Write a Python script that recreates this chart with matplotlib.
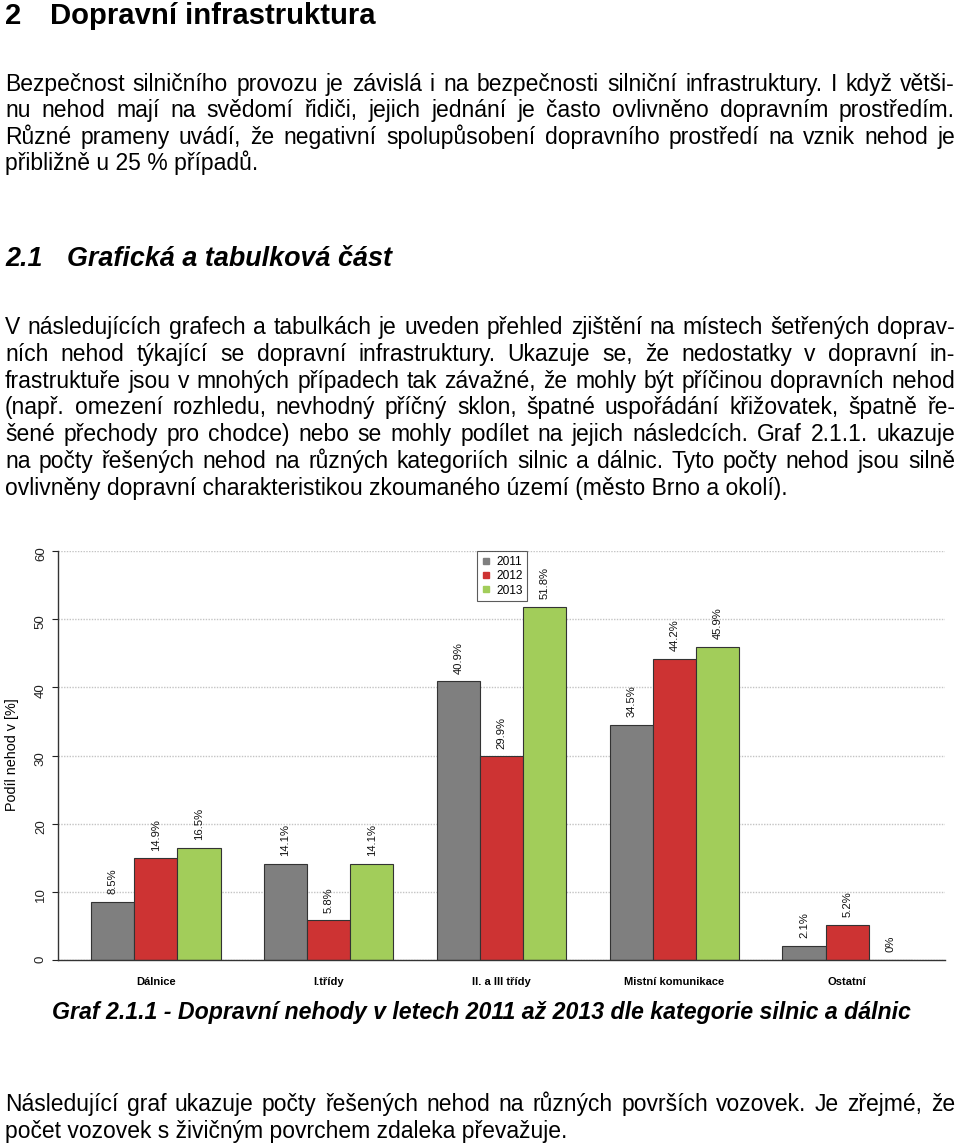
import matplotlib
matplotlib.use('Agg')
import matplotlib.pyplot as plt
from matplotlib.font_manager import FontProperties
from matplotlib.lines import Line2D

# chart data
categories = ['Dálnice', 'I.třídy', 'II. a III třídy', 'Mistní komunikace', 'Ostatní']
years = ['2011', '2012', '2013']
share_2011 = [8.5, 14.1, 40.9, 34.5, 2.1]
share_2012 = [14.9, 5.8, 29.9, 44.2, 5.2]
share_2013 = [16.5, 14.1, 51.8, 45.9, 0.0]
colors = ['#7F7F7F', '#CD3333', '#A2CD5A']

# page text
heading1 = ('2', 'Dopravní infrastruktura')
para1 = [
    'Bezpečnost silničního provozu je závislá i na bezpečnosti silniční infrastruktury. I když větši-',
    'nu nehod mají na svědomí řidiči, jejich jednání je často ovlivněno dopravním prostředím.',
    'Různé prameny uvádí, že negativní spolupůsobení dopravního prostředí na vznik nehod je',
    'přibližně u 25 % případů.',
]
heading2 = ('2.1', 'Grafická a tabulková část')
para2 = [
    'V následujících grafech a tabulkách je uveden přehled zjištění na místech šetřených doprav-',
    'ních nehod týkající se dopravní infrastruktury. Ukazuje se, že nedostatky v dopravní in-',
    'frastruktuře jsou v mnohých případech tak závažné, že mohly být příčinou dopravních nehod',
    '(např. omezení rozhledu, nevhodný příčný sklon, špatné uspořádání křižovatek, špatně ře-',
    'šené přechody pro chodce) nebo se mohly podílet na jejich následcích. Graf 2.1.1. ukazuje',
    'na počty řešených nehod na různých kategoriích silnic a dálnic. Tyto počty nehod jsou silně',
    'ovlivněny dopravní charakteristikou zkoumaného území (město Brno a okolí).',
]
caption = 'Graf 2.1.1 - Dopravní nehody v letech 2011 až 2013 dle kategorie silnic a dálnic'
para3 = [
    'Následující graf ukazuje počty řešených nehod na různých površích vozovek. Je zřejmé, že',
    'počet vozovek s živičným povrchem zdaleka převažuje.',
]

W, H = 960, 1146
fig = plt.figure(figsize=(W / 100, H / 100), dpi=100)
renderer = fig.canvas.get_renderer()

body = FontProperties(family='Liberation Sans', size=16.5)
h1 = FontProperties(family='Liberation Sans', weight='bold', size=21.1)
h2 = FontProperties(family='Liberation Sans', weight='bold', style='italic', size=19.4)
cap = FontProperties(family='Liberation Sans', weight='bold', style='italic', size=16.65)


def put(x, y, s, prop):
    return fig.text(x / W, 1 - y / H, s, fontproperties=prop, ha='left', va='baseline')


def line(s, y, prop, justify, x0=5, x1=955):
    if not justify:
        put(x0, y, s, prop)
        return
    words = s.split(' ')
    texts = [put(x0, y, w, prop) for w in words]
    widths = [t.get_window_extent(renderer).width for t in texts]
    gap = (x1 - x0 - sum(widths)) / (len(words) - 1)
    x = x0
    for t, wd in zip(texts, widths):
        t.set_x(x / W)
        x += wd + gap


def paragraph(lines, y0, step, prop):
    for i, s in enumerate(lines):
        line(s, y0 + i * step, prop, justify=i < len(lines) - 1)


put(5, 24, heading1[0], h1)
put(50, 24, heading1[1], h1)
paragraph(para1, 91, 26.3, body)
put(5, 266, heading2[0], h2)
put(67, 266, heading2[1], h2)
paragraph(para2, 334, 26.8, body)
put(52, 1019, caption, cap)
paragraph(para3, 1111, 27, body)

# chart
ax = fig.add_axes([58 / W, 1 - 960 / H, 887 / W, 409 / H])
series = [share_2011, share_2012, share_2013]
for s, (vals, col) in enumerate(zip(series, colors)):
    xs = [1 + 4 * g + s for g in range(len(categories))]
    ax.bar(xs, vals, width=1, align='edge', color=col, edgecolor='#333333',
           linewidth=0.8, zorder=2)
    for x, v in zip(xs, vals):
        ax.annotate(f'{v:g}%', (x + 0.5, v), xytext=(0, 5.5), textcoords='offset points',
                    rotation=90, ha='center', va='bottom', fontsize=8.1,
                    family='Liberation Sans', color='#111111')

ax.set_xlim(0.24, 20.76)
ax.set_ylim(0, 60)
ax.set_yticks(range(0, 61, 10))
ax.tick_params(axis='y', length=4, width=0.8, pad=4, labelsize=9.5, labelrotation=90,
               colors='#222222')
for lab in ax.get_yticklabels():
    lab.set_family('Liberation Sans')
ax.set_xticks([2.5 + 4 * g for g in range(len(categories))])
ax.set_xticklabels(categories, fontweight='bold', fontsize=8, family='Liberation Sans')
ax.tick_params(axis='x', length=0, pad=12)
ax.yaxis.grid(True, linestyle=(0, (1, 1)), color='#c4c4c4', linewidth=1)
ax.set_axisbelow(True)
for side in ('top', 'right'):
    ax.spines[side].set_visible(False)
for side in ('left', 'bottom'):
    ax.spines[side].set_color('#333333')
    ax.spines[side].set_linewidth(1)

fig.text(12 / W, 1 - 755 / H, 'Podíl nehod v [%]', rotation=90, ha='center', va='center',
         fontsize=10.4, family='Liberation Sans')

handles = [Line2D([], [], marker='s', linestyle='none', markersize=3.8,
                  markerfacecolor=c, markeredgecolor=c) for c in colors]
leg = ax.legend(handles, years, loc='upper left', bbox_to_anchor=((477 - 58) / 887, 1.0),
                borderaxespad=0, frameon=True, fancybox=False, handlelength=0.7,
                handletextpad=0.5, labelspacing=0.2, borderpad=0.4,
                prop=FontProperties(family='Liberation Sans', size=8.6))
leg.get_frame().set_edgecolor('#333333')
leg.get_frame().set_linewidth(0.8)

fig.savefig('out.png', dpi=100)
